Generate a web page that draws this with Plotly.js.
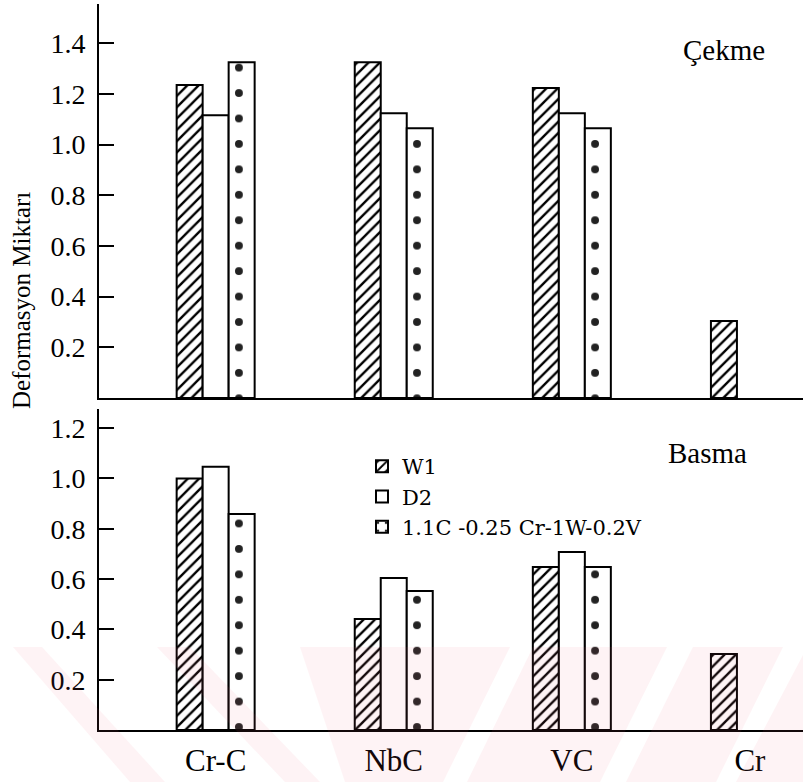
<!DOCTYPE html>
<html>
<head>
<meta charset="utf-8">
<script src="https://cdn.plot.ly/plotly-3.0.1.min.js"></script>
<style>html,body{margin:0;padding:0;background:#fff;}#chart{width:803px;height:782px;}</style>
</head>
<body>
<div id="chart"></div>
<script>
// ---- data ----
const categories = ['Cr-C', 'NbC', 'VC', 'Cr'];
const seriesNames = ['W1', 'D2', '1.1C -0.25 Cr-1W-0.2V'];
// Çekme (tension) panel
const cekmeW1    = [1.235, 1.325, 1.223, 0.304];
const cekmeD2    = [1.116, 1.124, 1.124, null];
const cekmeAlloy = [1.325, 1.065, 1.065, null];
// Basma (compression) panel
const basmaW1    = [1.000, 0.441, 0.648, 0.302];
const basmaD2    = [1.046, 0.604, 0.708, null];
const basmaAlloy = [0.859, 0.553, 0.648, null];
// tick values
const topTicks = [0.2, 0.4, 0.6, 0.8, 1.0, 1.2, 1.4];
const bottomTicks = [0.2, 0.4, 0.6, 0.8, 1.0, 1.2];
const yTitle = 'Deformasyon Miktarı';
const panelLabels = ['Çekme', 'Basma'];

// ---- styles ----
const W = 803, H = 782, ML = 99, MR = 0, MT = 4, MB = 52;
const PW = W - ML - MR, PH = H - MT - MB;
const serif = 'Liberation Serif';
const outline = {color: '#000', width: 2};
const styles = [
  {color: '#fff', line: outline, pattern: {shape: '/', fgcolor: '#000', bgcolor: '#fff', size: 8, solidity: 0.3}},
  {color: '#fff', line: outline},
  {color: '#fff', line: outline, pattern: {shape: '.', fgcolor: '#222', bgcolor: '#fff', size: 25.44, solidity: 0.075}}
];

function makeTraces(vals, xa, ya, showLegend) {
  return vals.map((v, i) => ({
    type: 'bar', x: categories, y: v, name: seriesNames[i],
    xaxis: xa, yaxis: ya, marker: styles[i], showlegend: showLegend,
    legendgroup: 'g' + i, hoverinfo: 'x+y+name'
  }));
}

const traces = [
  ...makeTraces([basmaW1, basmaD2, basmaAlloy], 'x', 'y', true),
  ...makeTraces([cekmeW1, cekmeD2, cekmeAlloy], 'x2', 'y2', false)
];

// convert pixel to paper coords
const px = x => (x - ML) / PW;
const py = y => (H - MB - y) / PH;
function poly(pts) {
  return {
    type: 'path', xref: 'paper', yref: 'paper', layer: 'above',
    path: 'M' + pts.map(p => px(p[0]) + ',' + py(p[1])).join('L') + 'Z',
    fillcolor: 'rgb(240,100,125)', opacity: 0.08, line: {width: 0}
  };
}
// faint watermark bands at the bottom of the page
const watermarkBands = [
  [[13, 647], [42, 647], [165, 782], [130, 782]],
  [[157, 647], [190, 647], [320, 782], [285, 782]],
  [[300, 647], [510, 647], [443, 782], [345, 782]],
  [[533, 647], [667, 647], [600, 782], [467, 782]],
  [[693, 647], [783, 647], [716, 782], [626, 782]],
  [[803, 655], [803, 782], [736, 782]]
];

const yCommon = {
  showline: true, linecolor: '#000', linewidth: 2, showgrid: false, zeroline: false,
  ticks: 'inside', ticklen: 15, tickwidth: 2, tickcolor: '#000',
  tickmode: 'array', ticklabelstandoff: 6,
  tickfont: {family: serif, size: 28, color: '#000'}
};
const xRange = [-0.655, 3.298];

const layout = {
  width: W, height: H,
  margin: {l: ML, r: MR, t: MT, b: MB},
  paper_bgcolor: '#fff', plot_bgcolor: 'rgba(0,0,0,0)',
  font: {family: serif, color: '#000'},
  barmode: 'group', bargap: 0.562, bargroupgap: 0,
  showlegend: true,
  legend: {
    x: px(362), y: py(446), xanchor: 'left', yanchor: 'top',
    bgcolor: 'rgba(0,0,0,0)', borderwidth: 0, traceorder: 'normal',
    font: {family: 'DejaVu Serif', size: 21, color: '#000'}
  },
  xaxis: {
    anchor: 'y', domain: [0, 1], type: 'category', range: xRange,
    showline: true, linecolor: '#000', linewidth: 2, showgrid: false, zeroline: false,
    ticks: '', ticklabelstandoff: 2,
    tickfont: {family: serif, size: 31, color: '#000'}
  },
  xaxis2: {
    anchor: 'y2', domain: [0, 1], type: 'category', range: xRange, matches: 'x',
    showline: true, linecolor: '#000', linewidth: 2, showgrid: false, zeroline: false,
    ticks: '', showticklabels: false
  },
  yaxis: Object.assign({}, yCommon, {
    anchor: 'x', domain: [0, py(409)], range: [0, 1.276], tickvals: bottomTicks,
    ticktext: bottomTicks.map(v => v.toFixed(1))
  }),
  yaxis2: Object.assign({}, yCommon, {
    anchor: 'x2', domain: [py(398), 1], range: [0, 1.555], tickvals: topTicks,
    ticktext: topTicks.map(v => v.toFixed(1))
  }),
  annotations: [
    {text: panelLabels[0], xref: 'paper', yref: 'paper', x: px(724), y: py(50),
     xanchor: 'center', yanchor: 'middle',
     showarrow: false, font: {family: serif, size: 29, color: '#000'}},
    {text: panelLabels[1], xref: 'paper', yref: 'paper', x: px(707), y: py(453),
     xanchor: 'center', yanchor: 'middle',
     showarrow: false, font: {family: serif, size: 29, color: '#000'}},
    {text: yTitle, xref: 'paper', yref: 'paper', x: px(21), y: py(301), textangle: -90,
     xanchor: 'center', yanchor: 'middle',
     showarrow: false, font: {family: serif, size: 25, color: '#000'}}
  ],
  shapes: watermarkBands.map(poly)
};

Plotly.newPlot('chart', traces, layout, {displayModeBar: false, staticPlot: true});
</script>
</body>
</html>
